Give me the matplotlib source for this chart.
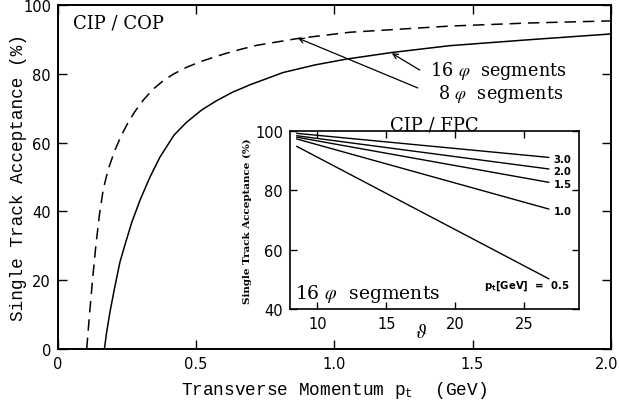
import matplotlib
matplotlib.use("Agg")
import matplotlib.pyplot as plt
import matplotlib.transforms as mtransforms

plt.rcParams['mathtext.fontset'] = 'stix'

# main panel: acceptance vs transverse momentum (CIP / COP)
pt_8seg = [0.104, 0.114, 0.125, 0.137, 0.150, 0.164, 0.182, 0.206, 0.230,
           0.254, 0.278, 0.309, 0.345, 0.381, 0.417, 0.465, 0.514, 0.562,
           0.610, 0.664, 0.719, 0.869, 1.056, 1.418, 1.707, 2.0]
acc_8seg = [0.0, 10.0, 20.0, 30.0, 39.0, 46.5, 52.3, 57.8, 62.2,
            65.9, 69.0, 72.4, 75.6, 78.0, 79.9, 81.9, 83.5, 84.8,
            86.0, 87.2, 88.3, 90.3, 92.1, 93.9, 94.8, 95.4]

pt_16seg = [0.168, 0.176, 0.188, 0.204, 0.224, 0.245, 0.267, 0.297, 0.333,
            0.369, 0.420, 0.465, 0.520, 0.574, 0.630, 0.694, 0.815, 0.930,
            1.044, 1.207, 1.418, 1.700, 2.0]
acc_16seg = [0.0, 4.8, 10.7, 17.4, 25.2, 31.0, 36.8, 43.3, 50.0,
             55.8, 62.2, 65.9, 69.5, 72.2, 74.6, 76.8, 80.4, 82.6,
             84.3, 86.2, 88.2, 89.9, 91.6]

# inset: acceptance vs theta (CIP / FPC), 16 phi segments
theta_range = [8.5, 26.8]
pt_labels = ["3.0", "2.0", "1.5", "1.0", "0.5"]
acc_start = [99.2, 98.4, 97.9, 97.3, 94.8]
acc_end = [91.1, 87.2, 82.7, 73.7, 50.2]

mono = "Liberation Mono"
serif = "DejaVu Serif"
sans = "DejaVu Sans"

fig = plt.figure(figsize=(6.2, 4.06), dpi=100)
ax = fig.add_axes([0.0935, 0.138, 0.8915, 0.847])

ax.plot(pt_8seg, acc_8seg, color="black", lw=1.1, linestyle=(0, (7.5, 4.5)))
ax.plot(pt_16seg, acc_16seg, color="black", lw=1.1)

ax.set_xlim(0, 2.0)
ax.set_ylim(0, 100)
ax.set_xticks([0, 0.5, 1.0, 1.5, 2.0])
ax.set_xticklabels(["0", "0.5", "1.0", "1.5", "2.0"])
ax.set_yticks([0, 20, 40, 60, 80, 100])
ax.tick_params(direction="in", top=True, right=True, length=6.5, width=1.0,
               labelsize=10.5, pad=5)
for lbl in ax.get_xticklabels() + ax.get_yticklabels():
    lbl.set_family(sans)
# keep the last x label inside the figure
last = ax.get_xticklabels()[-1]
last.set_transform(last.get_transform() +
                   mtransforms.ScaledTranslation(-4 / 100, 0, fig.dpi_scale_trans))
for s in ax.spines.values():
    s.set_linewidth(1.4)

ax.set_xlabel(r"Transverse Momentum p$_\mathregular{t}$  (GeV)",
              family=mono, fontsize=12.8, labelpad=6)
ax.set_ylabel("Single Track Acceptance (%)", family=mono, fontsize=12.8)
ax.yaxis.set_label_coords(-0.056, 0.5)

ax.text(0.054, 95, "CIP / COP", family=serif, fontsize=13, va="center")

ax.text(1.345, 81.1, r"16 $\varphi$  segments", family=serif, fontsize=12.7,
        va="center")
ax.text(1.374, 74.4, r"8 $\varphi$  segments", family=serif, fontsize=12.7,
        va="center")
arrow = dict(arrowstyle="->", color="black", lw=0.9, shrinkA=0, shrinkB=0,
             mutation_scale=9)
ax.annotate("", xy=(1.208, 86.0), xytext=(1.309, 81.1), arrowprops=arrow)
ax.annotate("", xy=(0.868, 90.4), xytext=(1.302, 75.9), arrowprops=arrow)

# inset
ins = fig.add_axes([0.4677, 0.2365, 0.4661, 0.4384])
for lab, a0, a1 in zip(pt_labels, acc_start, acc_end):
    ins.plot(theta_range, [a0, a1], color="black", lw=1.0)
    if lab == "0.5":
        ins.text(28.3, a1 - 2.3,
                 r"p$_\mathregular{t}$[GeV]  =  0.5", fontsize=7.3,
                 fontweight="bold", family=sans, ha="right", va="center")
    else:
        ins.text(theta_range[1] + 0.35, a1 - 0.6, lab, fontsize=7.3,
                 fontweight="bold", family=sans, va="center")

ins.set_xlim(8, 29)
ins.set_ylim(40, 100)
ins.set_xticks([10, 15, 20, 25])
ins.set_yticks([40, 60, 80, 100])
ins.tick_params(direction="in", top=True, right=True, length=5, width=1.0,
                labelsize=10.5, pad=5)
for lbl in ins.get_xticklabels() + ins.get_yticklabels():
    lbl.set_family(sans)
for s in ins.spines.values():
    s.set_linewidth(1.2)

ins.set_title("CIP / FPC", family=serif, fontsize=13, pad=1)
ins.set_ylabel("Single Track Acceptance (%)", family=serif, fontsize=7.5,
               fontweight="bold", labelpad=2)
ins.text(0.454, -0.125, r"$\vartheta$", transform=ins.transAxes,
         fontsize=14, ha="center", va="center")
ins.text(8.4, 45.5, r"16 $\varphi$  segments", family=serif, fontsize=13.5,
         va="center")

fig.savefig("out.png", dpi=100)
